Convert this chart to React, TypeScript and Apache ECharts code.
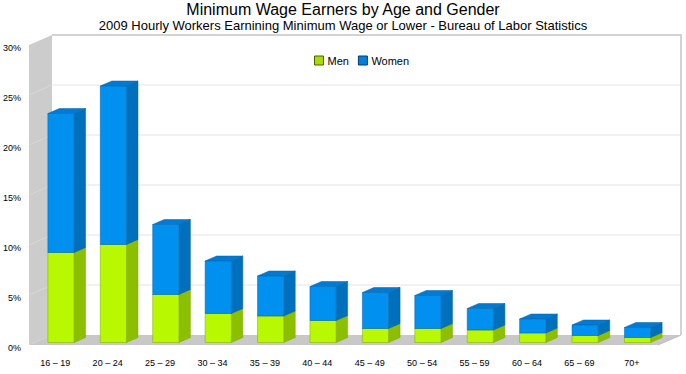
import React, { useEffect, useRef } from "react";
import * as echarts from "echarts";

const categories = ["16 – 19", "20 – 24", "25 – 29", "30 – 34", "35 – 39", "40 – 44", "45 – 49", "50 – 54", "55 – 59", "60 – 64", "65 – 69", "70+"];
const men = [9.0, 9.8, 4.8, 2.9, 2.65, 2.2, 1.4, 1.4, 1.25, 0.95, 0.7, 0.5];
const women = [13.9, 15.85, 7.0, 5.25, 4.0, 3.4, 3.6, 3.3, 2.15, 1.4, 1.05, 1.0];
const yTicks = [0, 5, 10, 15, 20, 25, 30];

const DX = 23;
const DY = -10;
const FONT = "'Liberation Sans', Arial, Helvetica, sans-serif";

function makeBar(front: string, side: string, top: string, edge: string) {
  return (params: any, api: any) => {
    const idx = api.value(0);
    const base = api.value(1);
    const val = api.value(2);
    const p0 = api.coord([idx, base]);
    const p1 = api.coord([idx, val]);
    const band = api.size([1, 0])[0];
    const w = band * 0.5;
    const ox = DX * 0.25;
    const oy = DY * 0.25;
    const x0 = p0[0] - w / 2 + ox;
    const x1 = x0 + w;
    const yb = p0[1] + oy;
    const yt = p1[1] + oy;
    const hx = DX * 0.5;
    const hy = DY * 0.5;
    return {
      type: "group",
      children: [
        {
          type: "polygon",
          shape: { points: [[x1, yt], [x1 + hx, yt + hy], [x1 + hx, yb + hy], [x1, yb]] },
          style: { fill: side, stroke: edge, lineWidth: 0.5 },
        },
        {
          type: "polygon",
          shape: { points: [[x0, yt], [x1, yt], [x1 + hx, yt + hy], [x0 + hx, yt + hy]] },
          style: { fill: top, stroke: edge, lineWidth: 0.5 },
        },
        {
          type: "rect",
          shape: { x: x0, y: yt, width: w, height: yb - yt },
          style: { fill: front, stroke: edge, lineWidth: 0.5 },
        },
      ],
    };
  };
}

function renderFrame(params: any, api: any) {
  const cs = params.coordSys;
  const L = cs.x;
  const R = cs.x + cs.width;
  const T = api.coord([0, yTicks[yTicks.length - 1]])[1];
  const B = api.coord([0, yTicks[0]])[1];
  const children: any[] = [];
  children.push({
    type: "polygon",
    shape: { points: [[L, T], [L + DX, T + DY], [L + DX, B + DY], [L, B]] },
    style: { fill: "#cccccc" },
  });
  children.push({
    type: "polygon",
    shape: { points: [[L, B], [L + DX, B + DY], [R + DX, B + DY], [R, B]] },
    style: { fill: "#c8c8c8" },
  });
  for (const t of yTicks) {
    if (t === yTicks[0] || t === yTicks[yTicks.length - 1]) continue;
    const y = api.coord([0, t])[1];
    children.push({
      type: "line",
      shape: { x1: L + DX, y1: y + DY, x2: R + DX, y2: y + DY },
      style: { stroke: "#e4e4e4", lineWidth: 1 },
    });
    children.push({
      type: "line",
      shape: { x1: L, y1: y, x2: L + DX, y2: y + DY },
      style: { stroke: "#d8d8d8", lineWidth: 1 },
    });
  }
  children.push({
    type: "line",
    shape: { x1: L + DX, y1: T + DY, x2: R + DX + 1, y2: T + DY },
    style: { stroke: "#d2d2d2", lineWidth: 2 },
  });
  children.push({
    type: "line",
    shape: { x1: R + DX, y1: T + DY, x2: R + DX, y2: B + DY },
    style: { stroke: "#d2d2d2", lineWidth: 2 },
  });
  children.push({
    type: "line",
    shape: { x1: R, y1: B, x2: R + DX, y2: B + DY },
    style: { stroke: "#bdbdbd", lineWidth: 1 },
  });
  return { type: "group", children };
}

export default function App() {
  const ref = useRef<HTMLDivElement>(null);
  useEffect(() => {
    document.body.style.margin = "0";
    if (!ref.current) return;
    const chart = echarts.init(ref.current, undefined, { renderer: "svg" });
    const menData = men.map((v, i) => [i, 0, v]);
    const womenData = women.map((v, i) => [i, men[i], men[i] + v]);
    chart.setOption({
      animation: false,
      backgroundColor: "#ffffff",
      title: {
        text: "Minimum Wage Earners by Age and Gender",
        subtext: "2009 Hourly Workers Earnining Minimum Wage or Lower - Bureau of Labor Statistics",
        left: "center",
        top: 0,
        padding: [1, 0, 0, 0],
        itemGap: 2,
        textStyle: { fontFamily: FONT, fontSize: 16, fontWeight: "normal", color: "#000" },
        subtextStyle: { fontFamily: FONT, fontSize: 13, color: "#000" },
      },
      legend: {
        data: [
          { name: "Men", itemStyle: { borderColor: "#4d5e00", borderWidth: 1 } },
          { name: "Women", itemStyle: { borderColor: "#003e70", borderWidth: 1 } },
        ],
        left: 309,
        top: 50,
        icon: "rect",
        itemWidth: 9,
        itemHeight: 9,
        itemGap: 9,
        textStyle: { fontFamily: FONT, fontSize: 11, color: "#000", padding: [5, 0, 0, -1] },
      },
      grid: { left: 29, right: 28, top: 45, bottom: 29 },
      xAxis: {
        type: "category",
        data: categories,
        axisLine: { show: false },
        axisTick: { show: false },
        splitLine: { show: false },
        axisLabel: { fontFamily: FONT, fontSize: 9, color: "#000", margin: 12, lineHeight: 12, interval: 0 },
      },
      yAxis: {
        type: "value",
        min: 0,
        max: 30,
        interval: 5,
        axisLine: { show: false },
        axisTick: { show: false },
        splitLine: { show: false },
        axisLabel: {
          formatter: "{value}%",
          fontFamily: FONT,
          fontSize: 9,
          color: "#000",
          margin: 8,
          verticalAlign: "top",
          lineHeight: 6,
        },
      },
      series: [
        {
          type: "custom",
          name: "frame",
          silent: true,
          renderItem: renderFrame,
          data: [[0, 0]],
          encode: { x: 0, y: 1 },
          z: 1,
        },
        {
          type: "custom",
          name: "Men",
          renderItem: makeBar("#b8f800", "#8cbf00", "#a6e000", "#7fa800"),
          itemStyle: { color: "#a8dc00" },
          data: menData,
          encode: { x: 0, y: [1, 2] },
          z: 2,
        },
        {
          type: "custom",
          name: "Women",
          renderItem: makeBar("#0090f0", "#006fbc", "#007ad2", "#0064aa"),
          itemStyle: { color: "#0080d8" },
          data: womenData,
          encode: { x: 0, y: [1, 2] },
          z: 3,
        },
      ],
    });
    return () => chart.dispose();
  }, []);
  return <div ref={ref} style={{ position: "fixed", left: 0, top: 0, width: 686, height: 374 }} />;
}
